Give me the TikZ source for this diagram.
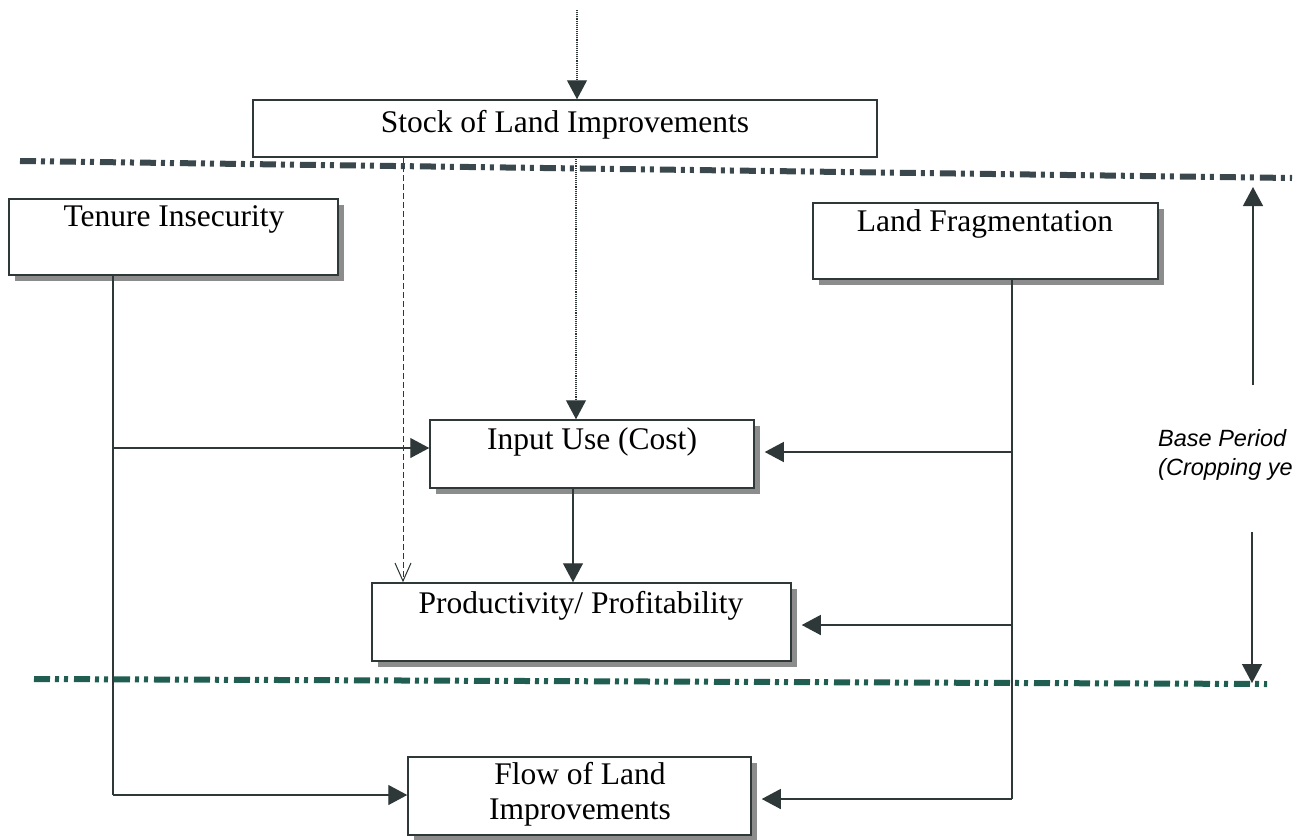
\documentclass[tikz,border=0pt]{standalone}
\usepackage{fontspec}
\setmainfont{Liberation Serif}
\newfontfamily\sansit{Liberation Sans}
\usetikzlibrary{arrows.meta,shadows}
\definecolor{ink}{HTML}{2E3838}
\definecolor{topline}{HTML}{3A474C}
\definecolor{botline}{HTML}{1F5E50}
\definecolor{shade}{HTML}{8C8C8C}
\tikzset{
  box/.style={draw=ink, line width=1.5pt, fill=white, inner sep=0pt,
    general shadow={fill=shade, shadow xshift=6pt, shadow yshift=-6pt}},
  plainbox/.style={draw=ink, line width=1.5pt, fill=white, inner sep=0pt},
  lbl/.style={font=\fontsize{31.5}{35}\selectfont, inner sep=0pt, text=black, align=center},
  conn/.style={draw=ink, line width=1.3pt},
  tri/.style={-{Triangle[length=19pt,width=20pt]}},
  openv/.style={-{Straight Barb[length=18pt,width=16pt,line width=1pt]}},
  period/.style={line width=6pt, dash pattern=on 16pt off 5pt on 4pt off 5pt on 4pt off 6pt},
}
\begin{document}
\begin{tikzpicture}[x=1pt,y=-1pt]
\useasboundingbox (0,0) rectangle (1310,839);
\fill[white] (0,0) rectangle (1310,839);

% dash-dot period lines
\coordinate (tl1) at (20,161);
\coordinate (tl2) at (1292,178);
\coordinate (bl1) at (34,679);
\coordinate (bl2) at (1267,684);
\draw[period, topline] (tl1) -- (tl2);
\draw[period, botline] (bl1) -- (bl2);

% boxes
\node[plainbox, minimum width=624pt, minimum height=57pt] (stock) at (565,128.5) {};
\node[box, minimum width=329pt, minimum height=76pt] (tenure) at (173.5,237) {};
\node[box, minimum width=345pt, minimum height=76pt] (frag) at (985.5,241) {};
\node[box, minimum width=324pt, minimum height=68pt] (input) at (592,454) {};
\node[box, minimum width=419pt, minimum height=78pt] (prod) at (581.5,622) {};
\node[box, minimum width=343pt, minimum height=78pt] (flow) at (579.5,796) {};

% labels
\node[lbl] (tstock) at (565,125) {Stock of Land Improvements};
\node[lbl] (ttenure) at (174,219) {Tenure Insecurity};
\node[lbl] (tfrag) at (985,224) {Land Fragmentation};
\node[lbl] (tinput) at (592,442) {Input Use (Cost)};
\node[lbl] (tprod) at (581,606) {Productivity/ Profitability};
\node[lbl] (tflow) at (580,794) {Flow of Land\\Improvements};
\node[anchor=west, align=left, inner sep=0pt, font=\sansit\itshape\fontsize{23.5}{29}\selectfont] (base) at (1158,455) {Base Period\\(Cropping ye};

% top dotted arrow into stock
\coordinate (topin) at (577,10);
\draw[conn, line width=1.1pt, densely dotted, tri] (topin) -- (topin |- stock.north);

% stock to input (dotted) and to productivity (dashed)
\coordinate (sdot) at (576,157);
\draw[conn, line width=1.1pt, densely dotted, tri] (sdot) -- (sdot |- input.north);
\coordinate (sdash) at (403,157);
\draw[conn, line width=1pt, dash pattern=on 6pt off 3pt, openv] (sdash) -- (sdash |- prod.north);

% input to productivity
\coordinate (ip) at (573,488);
\draw[conn, tri] (ip) -- (ip |- prod.north);

% tenure trunk and branches
\coordinate (tt) at (113,275);
\coordinate (tj1) at (113,448);
\coordinate (tj2) at (113,795);
\draw[conn] (tt) -- (tj2);
\draw[conn, tri] (tj1) -- (tj1 -| input.west);
\draw[conn, tri] (tj2) -- (tj2 -| flow.west);

% fragmentation trunk and branches
\coordinate (ft) at (1012,279);
\coordinate (fj1) at (1012,452);
\coordinate (fj2) at (1012,625);
\coordinate (fj3) at (1012,799);
\draw[conn] (ft) -- (fj3);
\draw[conn, tri] (fj1) -- ([xshift=10pt]fj1 -| input.east);
\draw[conn, tri] (fj2) -- ([xshift=10pt]fj2 -| prod.east);
\draw[conn, tri] (fj3) -- ([xshift=10pt]fj3 -| flow.east);

% base period arrows
\coordinate (bu0) at (1253,385);
\coordinate (bu1) at (1253,187);
\coordinate (bd0) at (1252,532);
\coordinate (bd1) at (1252,683);
\draw[conn, tri] (bu0) -- (bu1);
\draw[conn, tri] (bd0) -- (bd1);
\end{tikzpicture}
\end{document}
